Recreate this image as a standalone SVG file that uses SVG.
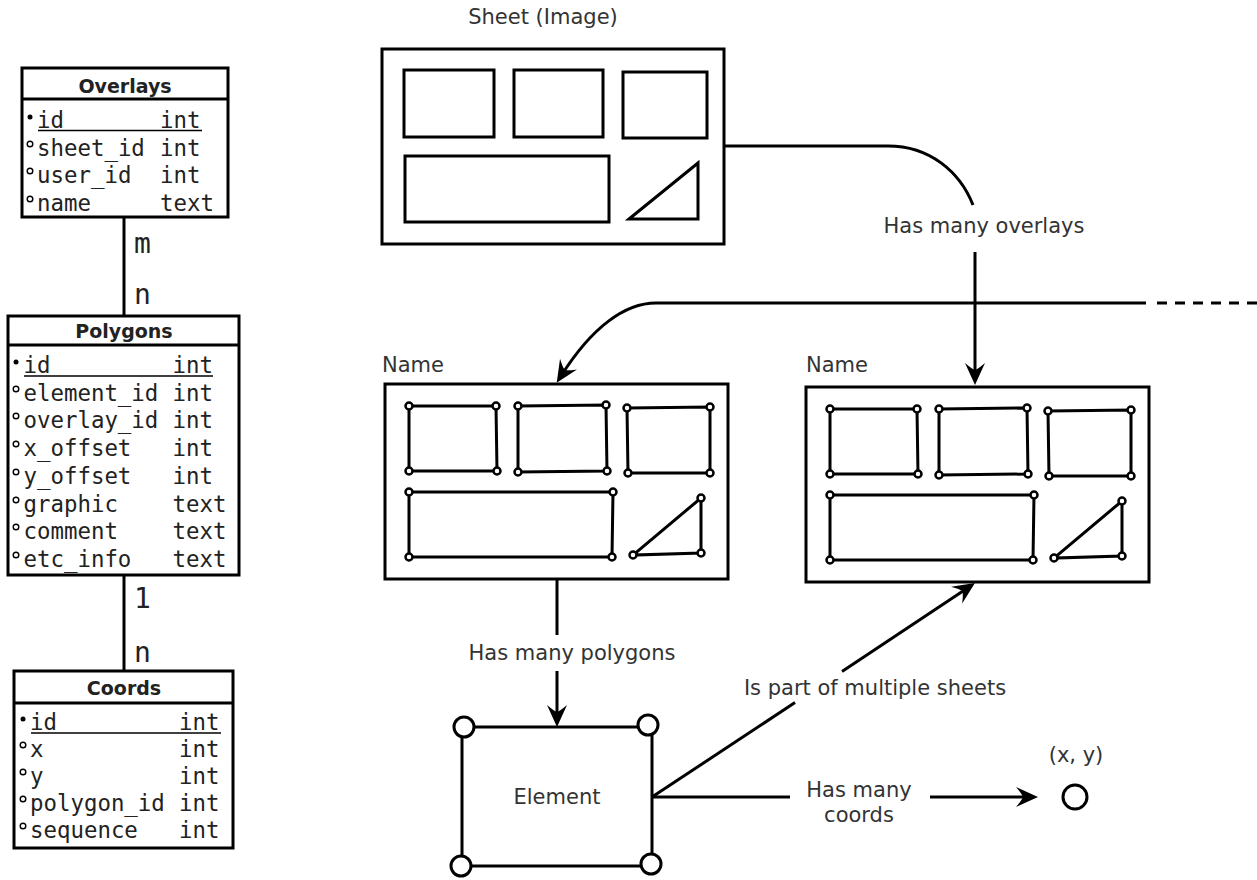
<svg xmlns="http://www.w3.org/2000/svg" xmlns:xlink="http://www.w3.org/1999/xlink" width="1257" height="880" viewBox="0 0 1257 880">
  <style>
    .frame { fill: #fff; stroke: #000; stroke-width: 3; }
    .shape { fill: none; stroke: #000; stroke-width: 3; stroke-linejoin: miter; }
    .vtx { fill: #fff; stroke: #000; stroke-width: 2.5; }
    .corner { fill: #fff; stroke: #000; stroke-width: 3; }
    .edge { fill: none; stroke: #000; stroke-width: 3; }
    .dash { stroke-dasharray: 10 8; }
    .arrow { marker-end: url(#head); }
    .title { font-family: "DejaVu Sans", "Liberation Sans", sans-serif; font-weight: bold; font-size: 19px; fill: #222; text-anchor: middle; }
    .field { font-family: "DejaVu Sans Mono", "Liberation Mono", monospace; font-size: 22.4px; fill: #222; }
    .card { font-family: "DejaVu Sans Mono", "Liberation Mono", monospace; font-size: 28px; fill: #222; }
    .label { font-family: "DejaVu Sans", "Liberation Sans", sans-serif; font-size: 21px; fill: #333; }
    .mid { text-anchor: middle; }
    .key { fill: #000; }
    .attr { fill: none; stroke: #000; stroke-width: 1.4; }
    .ul { stroke: #000; stroke-width: 1.5; }
  </style>
  <defs>
    <marker id="head" viewBox="-16 -12 26 24" refX="0" refY="0" markerWidth="26" markerHeight="24" markerUnits="userSpaceOnUse" orient="auto">
      <path d="M8,0 L-14,-10 Q-8,-3 -7,0 Q-8,3 -14,10 Z" fill="#000"/>
    </marker>
    <!-- an overlay: frame with outlined polygons and their vertices -->
    <g id="overlay-shapes">
      <rect class="frame" x="385" y="384" width="343" height="195"/>
      <polygon class="shape" points="409,406 496,406 497,471 409,471"/>
      <polygon class="shape" points="518,406 606,405 607,471 518,472"/>
      <polygon class="shape" points="627,408 710,407 710,473 628,473"/>
      <polygon class="shape" points="409,492 613,492 612,557 409,557"/>
      <polygon class="shape" points="701,498 701,553 633,555"/>
      <g class="vtx">
        <circle cx="409" cy="406" r="3.5"/><circle cx="496" cy="406" r="3.5"/>
        <circle cx="497" cy="471" r="3.5"/><circle cx="409" cy="471" r="3.5"/>
        <circle cx="518" cy="406" r="3.5"/><circle cx="606" cy="405" r="3.5"/>
        <circle cx="607" cy="471" r="3.5"/><circle cx="518" cy="472" r="3.5"/>
        <circle cx="627" cy="408" r="3.5"/><circle cx="710" cy="407" r="3.5"/>
        <circle cx="710" cy="473" r="3.5"/><circle cx="628" cy="473" r="3.5"/>
        <circle cx="409" cy="492" r="3.5"/><circle cx="613" cy="492" r="3.5"/>
        <circle cx="612" cy="557" r="3.5"/><circle cx="409" cy="557" r="3.5"/>
        <circle cx="701" cy="498" r="3.5"/><circle cx="701" cy="553" r="3.5"/>
        <circle cx="633" cy="555" r="3.5"/>
      </g>
    </g>
  </defs>

  <rect width="1257" height="880" fill="#fff"/>

  <!-- ER tables -->
  <g id="table-overlays">
    <rect class="frame" x="22" y="68" width="206" height="149"/>
    <line class="edge" x1="22" y1="99" x2="228" y2="99"/>
    <text class="title" x="125" y="93">Overlays</text>
    <circle class="key" cx="30" cy="117" r="2.5"/>
    <circle class="attr" cx="30" cy="144" r="2.8"/>
    <circle class="attr" cx="30" cy="171" r="2.8"/>
    <circle class="attr" cx="30" cy="199" r="2.8"/>
    <text class="field" x="37" y="128">id</text><text class="field" x="160" y="128">int</text>
    <line class="ul" x1="38" y1="130.5" x2="202" y2="130.5"/>
    <text class="field" x="37" y="156">sheet_id</text><text class="field" x="160" y="156">int</text>
    <text class="field" x="37" y="183">user_id</text><text class="field" x="160" y="183">int</text>
    <text class="field" x="37" y="211">name</text><text class="field" x="160" y="211">text</text>
  </g>

  <g id="table-polygons">
    <rect class="frame" x="8" y="316" width="231" height="259"/>
    <line class="edge" x1="8" y1="345" x2="239" y2="345"/>
    <text class="title" x="124" y="338">Polygons</text>
    <circle class="key" cx="16" cy="362" r="2.5"/>
    <circle class="attr" cx="16" cy="389" r="2.8"/>
    <circle class="attr" cx="16" cy="416" r="2.8"/>
    <circle class="attr" cx="16" cy="444" r="2.8"/>
    <circle class="attr" cx="16" cy="472" r="2.8"/>
    <circle class="attr" cx="16" cy="500" r="2.8"/>
    <circle class="attr" cx="16" cy="527" r="2.8"/>
    <circle class="attr" cx="16" cy="555" r="2.8"/>
    <text class="field" x="23.5" y="373">id</text><text class="field" x="172.5" y="373">int</text>
    <line class="ul" x1="24" y1="376" x2="213" y2="376"/>
    <text class="field" x="23.5" y="401">element_id</text><text class="field" x="172.5" y="401">int</text>
    <text class="field" x="23.5" y="428">overlay_id</text><text class="field" x="172.5" y="428">int</text>
    <text class="field" x="23.5" y="456">x_offset</text><text class="field" x="172.5" y="456">int</text>
    <text class="field" x="23.5" y="484">y_offset</text><text class="field" x="172.5" y="484">int</text>
    <text class="field" x="23.5" y="512">graphic</text><text class="field" x="172.5" y="512">text</text>
    <text class="field" x="23.5" y="539">comment</text><text class="field" x="172.5" y="539">text</text>
    <text class="field" x="23.5" y="567">etc_info</text><text class="field" x="172.5" y="567">text</text>
  </g>

  <g id="table-coords">
    <rect class="frame" x="14" y="671" width="219" height="177"/>
    <line class="edge" x1="14" y1="703" x2="233" y2="703"/>
    <text class="title" x="124" y="695">Coords</text>
    <circle class="key" cx="23" cy="719" r="2.5"/>
    <circle class="attr" cx="23" cy="745" r="2.8"/>
    <circle class="attr" cx="23" cy="772" r="2.8"/>
    <circle class="attr" cx="23" cy="799" r="2.8"/>
    <circle class="attr" cx="23" cy="826" r="2.8"/>
    <text class="field" x="30" y="730">id</text><text class="field" x="179" y="730">int</text>
    <line class="ul" x1="31" y1="733" x2="221" y2="733"/>
    <text class="field" x="30" y="757">x</text><text class="field" x="179" y="757">int</text>
    <text class="field" x="30" y="784">y</text><text class="field" x="179" y="784">int</text>
    <text class="field" x="30" y="811">polygon_id</text><text class="field" x="179" y="811">int</text>
    <text class="field" x="30" y="838">sequence</text><text class="field" x="179" y="838">int</text>
  </g>

  <!-- sheet image with its regions -->
  <g id="sheet">
    <text class="label mid" x="543" y="24">Sheet (Image)</text>
    <rect class="frame" x="382" y="49" width="342" height="195"/>
    <rect class="shape" x="404" y="70" width="90" height="67"/>
    <rect class="shape" x="514" y="70" width="89" height="67"/>
    <rect class="shape" x="623" y="72" width="84" height="66"/>
    <rect class="shape" x="405" y="156" width="204" height="66"/>
    <polygon class="shape" points="629,219 698,163 698,219"/>
  </g>

  <!-- overlays drawn on the sheet -->
  <g id="overlay-a">
    <text class="label" x="382" y="372">Name</text>
    <use xlink:href="#overlay-shapes"/>
  </g>
  <g id="overlay-b">
    <text class="label" x="806" y="372">Name</text>
    <use xlink:href="#overlay-shapes" transform="translate(421,3)"/>
  </g>

  <!-- a single element polygon -->
  <g id="element">
    <rect class="shape" x="462" y="727" width="190" height="139"/>
    <circle class="corner" cx="464" cy="727" r="10"/>
    <circle class="corner" cx="648" cy="725" r="10"/>
    <circle class="corner" cx="461" cy="866" r="10"/>
    <circle class="corner" cx="651" cy="864" r="10"/>
    <text class="label mid" x="557" y="804">Element</text>
  </g>

  <!-- a single coordinate -->
  <g id="point">
    <text class="label mid" x="1076" y="762">(x, y)</text>
    <circle class="corner" cx="1075" cy="797" r="12"/>
  </g>

  <!-- connectors -->
  <g id="connectors">
    <line class="edge" x1="124" y1="217" x2="124" y2="316"/>
    <text class="card" x="134" y="253">m</text>
    <text class="card" x="134" y="304">n</text>
    <line class="edge" x1="124" y1="575" x2="124" y2="671"/>
    <text class="card" x="134" y="608">1</text>
    <text class="card" x="134" y="662">n</text>

    <path class="edge" d="M724,146 H888 C930,146 960,172 973,205"/>
    <text class="label mid" x="984" y="233">Has many overlays</text>
    <path class="edge arrow" d="M975,252 V377"/>

    <path class="edge dash" d="M1257,303 H1150"/>
    <path class="edge arrow" d="M1146,303 H656 C625,303 592,327 561,376"/>

    <path class="edge" d="M557,579 V635"/>
    <text class="label mid" x="572" y="660">Has many polygons</text>
    <path class="edge arrow" d="M557,671 V719"/>

    <path class="edge" d="M652,797 L795,702.6"/>
    <text class="label mid" x="875" y="695">Is part of multiple sheets</text>
    <path class="edge arrow" d="M842,671.5 L968.3,587.4"/>

    <path class="edge" d="M652,797 H790"/>
    <text class="label mid" x="859" y="797">Has many</text>
    <text class="label mid" x="859" y="822">coords</text>
    <path class="edge arrow" d="M930,797 H1030"/>
  </g>
</svg>
